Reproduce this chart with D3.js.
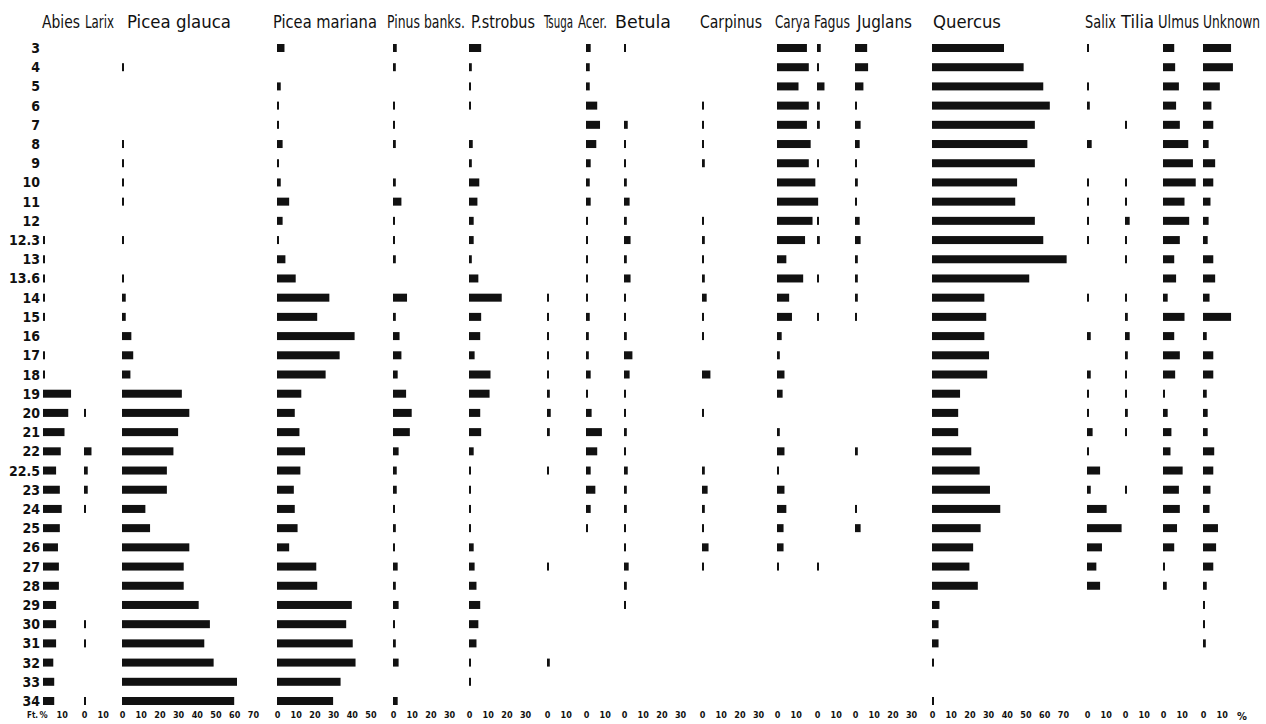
<!DOCTYPE html>
<html lang="en">
<head>
<meta charset="UTF-8">
<title>pollen diagram</title>
<script src="https://cdn.jsdelivr.net/npm/d3@7"></script>
<style>
  body { margin: 0; background: #fff; }
  svg { display: block; }
</style>
</head>
<body>
<script>
// depth samples (ft) and the labels written beside them
const depths = [3,4,5,6,7,8,9,10,11,12,12.3,13,13.6,14,15,16,17,18,19,20,21,22,22.5,23,24,25,26,27,28,29,30,31,32,33,34];
const depthLabels = ["3","4","5","6","7","8","9","10","11","12","12.3","13","13.6","14","15","16","17","18","19","20","21","22","22.5","23","24","25","26","27","28","29","30","31","32","33","34"];

// taxon names and the top tick of each little axis
const taxa = ["Abies","Larix","Picea glauca","Picea mariana","Pinus banks.","P.strobus","Tsuga","Acer.","Betula","Carpinus","Carya","Fagus","Juglans","Quercus","Salix","Tilia","Ulmus","Unknown"];
const tickMax = [10,10,70,50,30,30,10,10,30,30,10,10,30,70,10,10,10,10];

// percentages, one value per depth
const abies        = [0,0,0,0,0,0,0,0,0,0, 1,1,1,1,1,0,1,1, 15,13.5,11.5,9.5,7,9,10,9,8,8.5,8.5,7,7,7,5.5,6,6];
const larix        = [0,0,0,0,0,0,0,0,0,0, 0,0,0,0,0,0,0,0, 0,1,0,4,2,2,1,0,0,0,0,0,1,1,0,0,1];
const piceaGlauca  = [0,1,0,0,0,1,1,1,1,0, 1,0,1,2,2,5,6,4.5, 32,36,30,27.5,24,24,12.5,15,36,33,33,41,47,44,49,61.5,60];
const piceaMariana = [4,0,2,1,1,3,1,2,6.5,3, 1,4.5,10,28,21.5,41.5,33.5,26, 13,9.5,12,15,12.5,9,9.5,11,6.5,21,21.5,40,37,40.5,42,34,30];
const pinusBanks   = [2,1.5,0,1,1,1.5,0,1.5,4.5,1, 1,1.5,0,7.5,1.5,3.5,4.5,2.5, 7,10,9,3,2,2,1,1.5,1,2.5,1.5,3,1,1.5,3,0,2.5];
const pStrobus     = [6.5,1.5,1,1,0,2,1.5,5.5,4.5,2.5, 2.5,1.5,5,17.5,6.5,6,3,11.5, 11,6,6.5,2.5,1,1,1,1,2.5,3,4,6,5,4,1,1,0];
const tsuga        = [0,0,0,0,0,0,0,0,0,0, 0,0,0,1,1,1,1,1, 1.5,2,1.5,0,1,0,0,0,0,1,0,0,0,0,1.5,0,0];
const acer         = [2.5,2,2,6,7.5,5.5,2.5,2,2.5,1, 1,1,1,1,2,1.5,1.5,2.5, 1,3,8.5,6,2.5,5,2.5,1,0,0,0,0,0,0,0,0,0];
const betula       = [1,0,0,0,2,1,1,1.5,3,1.5, 3.5,1.5,3.5,1,1,1.5,4.5,3, 1,1,1.5,1,2,1.5,1.5,1,1,2.5,1.5,1,0,0,0,0,0];
const carpinus     = [0,0,0,1,1,1,1.5,0,0,1, 1.5,1,1.5,2.5,1,1,0,4.5, 0,1,0,0,1.5,3,1.5,1,3.5,1,0,0,0,0,0,0,0];
const carya        = [16,17,11.5,17,16,18,17,20.5,22,19, 15,5,14,6.5,8,2.5,1.5,4, 3,0,1.5,4,1,4,5,3.5,3.5,1,0,0,0,0,0,0,0];
const fagus        = [2,1,4,1.5,1.5,0,1,0,0,1, 1.5,0,1,0,1,0,0,0, 0,0,0,0,0,0,0,0,0,1,0,0,0,0,0,0,0];
const juglans      = [6.5,7,4.5,1,3,2.5,1,1.5,1,2.5, 3,1.5,1.5,1.5,1,0,0,0, 0,0,0,1.5,0,0,1,3,0,0,0,0,0,0,0,0,0];
const quercus      = [38.5,49,59.5,63,55,51,55,45.5,44.5,55, 59.5,72,52,28,29,28,30.5,29.5, 15,14,14,21,25.5,31,36.5,26,22,20,24.5,4,3.5,3.5,1,0,1];
const salix        = [1,0,1,1.5,0,2.5,0,1,1,1, 1,0,0,1,0,2,0,2, 1,1,3,1,7,2,10.5,18.5,8,5,7,0,0,0,0,0,0];
const tilia        = [0,0,0,0,1,0,0,1,1,2.5, 1,1,0,1,1.5,2.5,1.5,1, 1,1.5,1,0,0,1,0,0,0,0,0,0,0,0,0,0,0];
const ulmus        = [6,6.5,8.5,7,9,13.5,16,17.5,11.5,14, 9,6,7,2.5,11.5,6,9,6.5, 1,2.5,4.5,4,10.5,8.5,9,7.5,6,1,2,0,0,0,0,0,0];
const unknown      = [15,16,9,4.5,5.5,3,6.5,5.5,4,3, 2.5,5.5,6.5,3.5,15,2,5.5,5.5, 2,2.5,2.5,6,5.5,4,3.5,8,7,5.5,2,1,1,1.5,0,0,0];

const series = [abies,larix,piceaGlauca,piceaMariana,pinusBanks,pStrobus,tsuga,acer,betula,carpinus,carya,fagus,juglans,quercus,salix,tilia,ulmus,unknown];

// layout
const width = 1266, height = 724;
const pxPerPct = 1.87;
const panelLeft = [43,84,122,277,393,469,547,586,624,702,777,817,855,932,1087,1125,1163,1203];
const headLeft  = [42,85,127,273,387,471,544,578,615,700,775,814,857,933,1085,1121,1158,1203];
const headLen   = [38,29,104,104,78,64,29,29,56,62,35,36,55,68,31,33,41,57];
const barH = 8;
const ink = "#111";

const svg = d3.select("body").append("svg")
    .attr("width", width)
    .attr("height", height);
svg.append("rect").attr("width", width).attr("height", height).attr("fill", "#fff");

const y = d3.scalePoint().domain(depths).range([48, 701]);

// depth labels
svg.append("g").selectAll("text").data(depths).join("text")
    .attr("x", 40)
    .attr("y", d => y(d) + 5)
    .attr("text-anchor", "end")
    .attr("font-family", "'DejaVu Sans Condensed', 'DejaVu Sans', sans-serif")
    .attr("font-weight", "bold")
    .attr("font-size", "14px")
    .attr("fill", ink)
    .text((d, i) => depthLabels[i]);

svg.append("text")
    .attr("x", 27).attr("y", 718)
    .attr("font-family", "'DejaVu Sans Condensed', sans-serif")
    .attr("font-weight", "bold")
    .attr("font-size", "8px")
    .attr("fill", ink)
    .text("Ft.");

taxa.forEach((name, t) => {
    const x = d3.scaleLinear()
        .domain([0, tickMax[t]])
        .range([panelLeft[t], panelLeft[t] + tickMax[t] * pxPerPct]);
    const g = svg.append("g");

    // header: squeeze/stretch horizontally to the width of the lettering
    const head = g.append("text")
        .attr("x", 0).attr("y", 0)
        .attr("font-family", "'Liberation Sans Narrow', 'DejaVu Sans Condensed', sans-serif")
        .attr("font-size", 18)
        .attr("fill", ink)
        .text(name);
    const natural = head.node().getComputedTextLength();
    head.attr("transform", `translate(${headLeft[t]},28) scale(${headLen[t] / natural},1)`);

    // bars
    const rows = depths.map((d, i) => ({ depth: d, v: series[t][i] })).filter(r => r.v > 0);
    g.selectAll("rect").data(rows).join("rect")
        .attr("x", x(0))
        .attr("y", r => y(r.depth) - barH / 2)
        .attr("width", r => Math.max(2, x(r.v) - x(0)))
        .attr("height", barH)
        .attr("fill", ink);

    // little axis
    const ax = g.append("g")
        .attr("transform", "translate(0,711)")
        .call(d3.axisBottom(x)
            .tickValues(d3.range(0, tickMax[t] + 1, 10))
            .tickSize(0)
            .tickPadding(1)
            .tickFormat(v => (t === 0 && v === 0) ? "%" : v));
    ax.select(".domain").remove();
    ax.selectAll("text")
        .attr("font-family", "'DejaVu Sans Condensed', sans-serif")
        .attr("font-weight", "bold")
        .attr("font-size", "9px")
        .attr("fill", ink);
});

svg.append("text")
    .attr("x", 1242).attr("y", 720)
    .attr("text-anchor", "middle")
    .attr("font-family", "'DejaVu Sans Condensed', sans-serif")
    .attr("font-weight", "bold")
    .attr("font-size", "11px")
    .attr("fill", ink)
    .text("%");
</script>
</body>
</html>
